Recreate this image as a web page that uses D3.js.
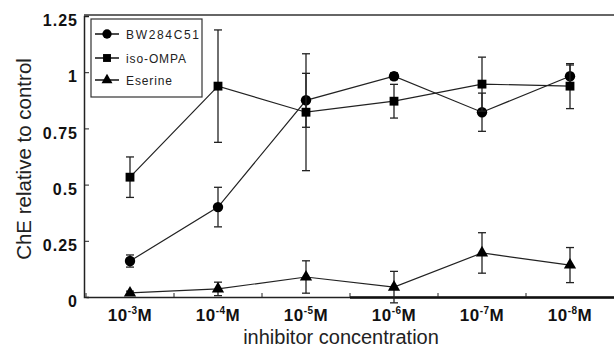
<!DOCTYPE html>
<html lang="en">
<head>
    <meta charset="UTF-8">
    <title>ChE relative to control</title>
    <script src="https://d3js.org/d3.v7.min.js"></script>
    <style>
        body { margin: 0; background: #fff; }
        text { font-family: "Liberation Sans", Arial, sans-serif; }
    </style>
</head>
<body>
    <svg id="chart"></svg>
    <script>
        const exponents = ["-3", "-4", "-5", "-6", "-7", "-8"];
        const yTicks = [0, 0.25, 0.5, 0.75, 1, 1.25];
        const yTickLabels = ["0", "0.25", "0.5", "0.75", "1", "1.25"];

        const bwValues = [0.16, 0.40, 0.875, 0.982, 0.822, 0.982];
        const bwErrors = [0.027, 0.088, 0.12, 0.015, 0.085, 0.05];
        const isoValues = [0.533, 0.938, 0.822, 0.871, 0.947, 0.938];
        const isoErrors = [0.09, 0.25, 0.26, 0.075, 0.12, 0.1];
        const eseValues = [0.018, 0.036, 0.089, 0.044, 0.196, 0.142];
        const eseErrors = [0.008, 0.03, 0.072, 0.07, 0.09, 0.078];

        const series = [
            { name: "BW284C51", values: bwValues, errors: bwErrors, symbol: d3.symbolCircle, size: 85, legendWidth: 73 },
            { name: "iso-OMPA", values: isoValues, errors: isoErrors, symbol: d3.symbolSquare, size: 78, legendWidth: 60 },
            { name: "Eserine", values: eseValues, errors: eseErrors, symbol: d3.symbolTriangle, size: 65, legendWidth: 46 }
        ];

        const width = 614, height = 352;
        const plotLeft = 84, plotRight = 614, plotTop = 16, plotBottom = 297;

        const svg = d3.select("#chart").attr("width", width).attr("height", height);

        const x = d3.scaleBand().domain(exponents).range([plotLeft + 2, plotRight]);
        const cx = d => x(d) + x.bandwidth() / 2;
        const y = d3.scaleLinear().domain([0, 1.25]).range([plotBottom, plotTop]);

        // frame top line
        svg.append("line")
            .attr("x1", plotLeft).attr("x2", plotRight)
            .attr("y1", plotTop - 1).attr("y2", plotTop - 1)
            .attr("stroke", "#333").attr("stroke-width", 1.5);

        // y axis
        const yAxis = svg.append("g")
            .attr("transform", `translate(${plotLeft},0)`)
            .call(d3.axisLeft(y).tickValues(yTicks).tickSize(-5).tickPadding(6)
                .tickFormat((d, i) => yTickLabels[i]));
        yAxis.select(".domain").attr("stroke", "#222").attr("stroke-width", 1.5);
        yAxis.selectAll("line").attr("stroke", "#222");
        yAxis.selectAll("text")
            .attr("font-size", 16).attr("font-weight", "bold").attr("fill", "#111")
            .attr("letter-spacing", 1)
            .attr("dy", "0.6em");

        // x axis, ticks on band edges
        const xAxis = svg.append("g")
            .attr("transform", `translate(0,${plotBottom})`)
            .call(d3.axisBottom(x).tickSize(0).tickFormat(""));
        xAxis.select(".domain").attr("stroke", "#222").attr("stroke-width", 1.5);
        xAxis.append("line")
            .attr("x1", x("-6")).attr("x2", plotRight)
            .attr("y1", 0.5).attr("y2", 0.5)
            .attr("stroke", "#111").attr("stroke-width", 2.5);
        xAxis.selectAll(".edge")
            .data(exponents)
            .join("line")
            .attr("x1", d => x(d)).attr("x2", d => x(d))
            .attr("y1", 0).attr("y2", -4)
            .attr("stroke", "#222");

        const xLabels = svg.append("g");
        exponents.forEach(e => {
            const t = xLabels.append("text")
                .attr("x", cx(e)).attr("y", 321)
                .attr("text-anchor", "middle")
                .attr("font-size", 17).attr("font-weight", "bold").attr("fill", "#111")
                .attr("letter-spacing", 0.5);
            t.append("tspan").text("10");
            t.append("tspan").attr("font-size", 10).attr("dy", -7).text(e);
            t.append("tspan").attr("dy", 7).text("M");
        });

        // axis titles
        svg.append("text")
            .attr("x", 341).attr("y", 344)
            .attr("text-anchor", "middle")
            .attr("font-size", 20).attr("fill", "#222")
            .text("inhibitor concentration");
        svg.append("text")
            .attr("transform", "translate(31,159) rotate(-90)")
            .attr("text-anchor", "middle")
            .attr("font-size", 20.5).attr("fill", "#222")
            .text("ChE relative to control");

        // series
        const line = d3.line().x((d, i) => cx(exponents[i])).y(d => y(d));
        series.forEach(s => {
            const g = svg.append("g");
            g.append("path")
                .datum(s.values)
                .attr("d", line)
                .attr("fill", "none").attr("stroke", "#222").attr("stroke-width", 1.2);

            const err = g.selectAll(".err")
                .data(s.values.map((v, i) => ({ v, e: s.errors[i], k: exponents[i] })))
                .join("g");
            err.append("line")
                .attr("x1", d => cx(d.k)).attr("x2", d => cx(d.k))
                .attr("y1", d => y(d.v + d.e)).attr("y2", d => y(d.v - d.e))
                .attr("stroke", "#222").attr("stroke-width", 1.3);
            [1, -1].forEach(sign => {
                err.append("line")
                    .attr("x1", d => cx(d.k) - 4).attr("x2", d => cx(d.k) + 4)
                    .attr("y1", d => y(d.v + sign * d.e)).attr("y2", d => y(d.v + sign * d.e))
                    .attr("stroke", "#222").attr("stroke-width", 1.3);
            });

            g.selectAll(".pt")
                .data(s.values)
                .join("path")
                .attr("transform", (d, i) => `translate(${cx(exponents[i])},${y(d)})`)
                .attr("d", d3.symbol().type(s.symbol).size(s.size))
                .attr("fill", "#000");
        });

        // legend
        const legend = svg.append("g");
        legend.append("rect")
            .attr("x", 91).attr("y", 19).attr("width", 111).attr("height", 78)
            .attr("fill", "#fff").attr("stroke", "#333").attr("stroke-width", 1.2);
        const rowY = [34, 58, 80];
        series.forEach((s, i) => {
            legend.append("line")
                .attr("x1", 95).attr("x2", 119)
                .attr("y1", rowY[i]).attr("y2", rowY[i])
                .attr("stroke", "#111").attr("stroke-width", 1.5);
            legend.append("path")
                .attr("transform", `translate(107,${rowY[i]})`)
                .attr("d", d3.symbol().type(s.symbol).size(s.size * 0.8))
                .attr("fill", "#000");
            legend.append("text")
                .attr("x", 126).attr("y", rowY[i] + 4.5)
                .attr("font-size", 12).attr("fill", "#222")
                .attr("textLength", s.legendWidth).attr("lengthAdjust", "spacing")
                .text(s.name);
        });
    </script>
</body>
</html>
